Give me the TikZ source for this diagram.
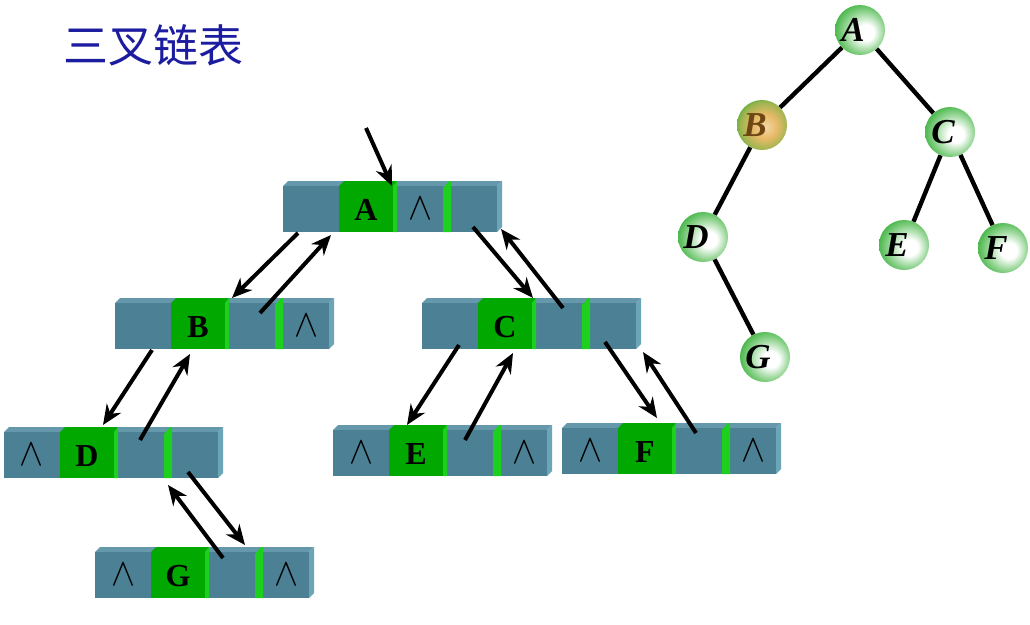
\documentclass[tikz,border=0pt]{standalone}
\usepackage{fontspec}
\setmainfont{Liberation Serif}
\newfontfamily\cjk{Noto Sans CJK SC}
\usetikzlibrary{arrows.meta,calc}

\definecolor{boxfront}{RGB}{76,128,148}
\definecolor{boxtop}{RGB}{100,152,170}
\definecolor{boxside}{RGB}{108,164,184}
\definecolor{datagreen}{RGB}{0,168,0}
\definecolor{datalight}{RGB}{30,208,30}
\definecolor{titleblue}{RGB}{28,28,160}
\definecolor{ballgreen}{RGB}{44,172,44}
\definecolor{ballcore}{RGB}{232,186,104}
\definecolor{brownletter}{RGB}{110,70,20}

% shadings of the tree nodes
\pgfdeclareradialshading{greenball}{\pgfpoint{7bp}{-3bp}}{%
  color(0bp)=(white); color(8bp)=(white); color(22bp)=(white!40!ballgreen);
  color(32bp)=(ballgreen); color(50bp)=(ballgreen!80!black)}
\pgfdeclareradialshading{orangeball}{\pgfpoint{4bp}{-2bp}}{%
  color(0bp)=(ballcore!60!white); color(12bp)=(ballcore); color(24bp)=(ballcore!60!ballgreen);
  color(32bp)=(ballgreen); color(50bp)=(ballgreen!80!black)}

\tikzset{
  ptr/.style={-{Stealth[length=20pt,width=17pt]}, line width=4pt},
  field/.style={minimum width=#1, minimum height=46pt, inner sep=0pt},
  datatext/.style={font=\fontsize{32}{32}\selectfont\bfseries},
  treenode/.style={circle, minimum size=50pt, inner sep=0pt, shade, shading=greenball,
    font=\fontsize{35}{35}\selectfont\bfseries\itshape},
  treeedge/.style={line width=4.4pt},
}

\newcommand{\nullmark}{\scalebox{3.6}[3.9]{$\wedge$}}

% #1 name, #2 x, #3 y, #4 lchild, #5 data, #6 parent, #7 rchild
\newcommand{\listnode}[7]{%
  \begin{scope}[shift={(#2,#3)}]
    \coordinate (#1) at (0,0);
    % box faces
    \fill[boxtop] (0,0) -- (5,-5) -- (219,-5) -- (214,0) -- cycle;
    \fill[boxside] (214,0) -- (219,-5) -- (219,41) -- (214,46) -- cycle;
    \fill[boxfront] (0,0) rectangle (214,46);
    % data field
    \fill[datagreen] (56,0) -- (61,-5) -- (114,-5) -- (110,0) -- cycle;
    \fill[datagreen] (56,0) rectangle (110,46);
    \fill[datalight] (110,0) -- (114,-5) -- (114,46) -- (110,46) -- cycle;
    % bar before rchild
    \fill[datalight] (160,2) -- (166,-5) -- (168,-5) -- (168,46) -- (160,46) -- cycle;
    % fields
    \node[field=56pt] (#1-l) at (28,23) {#4};
    \node[field=54pt, datatext] (#1-d) at (83,24) {#5};
    \node[field=46pt] (#1-p) at (137,23) {#6};
    \node[field=46pt] (#1-r) at (191,23) {#7};
  \end{scope}}

\begin{document}
\begin{tikzpicture}[x=1pt, y=-1pt]
\useasboundingbox[fill=white] (0,0) rectangle (1030,624);

% Tiêu đề
\node[font=\cjk\fontsize{45}{45}\selectfont, text=titleblue] (title) at (153,45) {三叉链表};

% Các nút của danh sách
\listnode{lA}{283}{186}{}{A}{\nullmark}{}
\listnode{lB}{115}{303}{}{B}{}{\nullmark}
\listnode{lC}{422}{303}{}{C}{}{}
\listnode{lD}{4}{432}{\nullmark}{D}{}{}
\listnode{lE}{333}{430}{\nullmark}{E}{}{\nullmark}
\listnode{lF}{562}{428}{\nullmark}{F}{}{\nullmark}
\listnode{lG}{95}{552}{\nullmark}{G}{}{\nullmark}

% Con trỏ
\coordinate (root) at (366,128);
\draw[ptr] (root) -- ($(lA)+(109,0)$);
\draw[ptr] ($(lA)+(15,47)$) -- ($(lB)+(117,-5)$);
\draw[ptr] ($(lB)+(145,10)$) -- ($(lA)+(48,49)$);
\draw[ptr] ($(lA)+(190,41)$) -- ($(lC)+(111,-5)$);
\draw[ptr] ($(lC)+(141,5)$) -- ($(lA)+(218,43)$);
\draw[ptr] ($(lB)+(37,47)$) -- ($(lD)+(99,-7)$);
\draw[ptr] ($(lD)+(136,8)$) -- ($(lB)+(75,51)$);
\draw[ptr] ($(lC)+(37,42)$) -- ($(lE)+(74,-5)$);
\draw[ptr] ($(lE)+(132,10)$) -- ($(lC)+(91,50)$);
\draw[ptr] ($(lC)+(183,39)$) -- ($(lF)+(95,-10)$);
\draw[ptr] ($(lF)+(134,5)$) -- ($(lC)+(221,49)$);
\draw[ptr] ($(lD)+(184,40)$) -- ($(lG)+(150,-7)$);
\draw[ptr] ($(lG)+(128,6)$) -- ($(lD)+(164,53)$);

% Cây nhị phân
\node[treenode] (tA) at (860,30) {\kern-14pt A};
\node[treenode, shading=orangeball, text=brownletter] (tB) at (762,125) {\kern-14pt B};
\node[treenode] (tC) at (950,132) {\kern-14pt C};
\node[treenode] (tD) at (703,237) {\kern-14pt D};
\node[treenode] (tE) at (904,245) {\kern-14pt E};
\node[treenode] (tF) at (1003,248) {\kern-14pt F};
\node[treenode] (tG) at (765,357) {\kern-14pt G};

\draw[treeedge] (tA) -- (tB);
\draw[treeedge] (tA) -- (tC);
\draw[treeedge] (tB) -- (tD);
\draw[treeedge] (tC) -- (tE);
\draw[treeedge] (tC) -- (tF);
\draw[treeedge] (tD) -- (tG);

\end{tikzpicture}
\end{document}
